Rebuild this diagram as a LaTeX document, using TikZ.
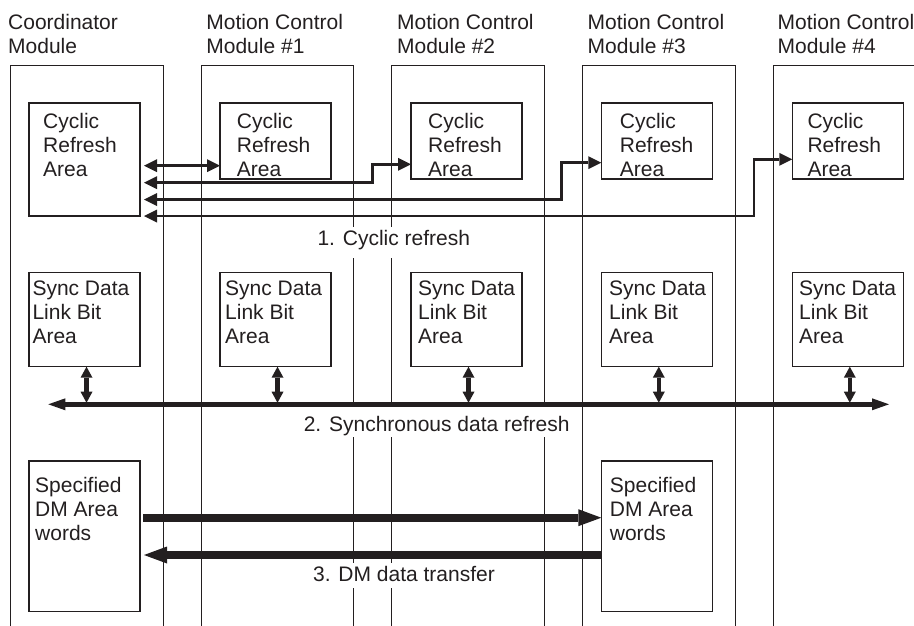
\documentclass[tikz,border=0pt]{standalone}
\usepackage{fontspec}
\setmainfont{Liberation Sans}
\usetikzlibrary{arrows.meta}
\definecolor{ink}{RGB}{35,31,32}
\newcommand{\stk}[1]{\begin{tabular}[t]{@{}l@{}}#1\end{tabular}}
\begin{document}
\begin{tikzpicture}[x=1pt,y=-1pt,
  mod/.style={draw=ink,line width=1pt},
  area/.style={draw=ink,line width=1.2pt,inner sep=0pt,outer sep=0pt,anchor=north west,minimum width=111pt},
  txt/.style={anchor=base west,inner sep=0pt,text=ink,font=\fontsize{21}{24}\selectfont},
  lbl/.style={anchor=base,fill=white,inner xsep=3pt,inner ysep=0pt,text=ink,font=\fontsize{21}{24}\selectfont},
  cyc/.style={draw=ink,line width=2.6pt,arrows={Triangle[length=13pt,width=13pt,line width=0pt]-Triangle[length=13pt,width=13pt,line width=0pt]}},
  bus/.style={draw=ink,line width=5pt,arrows={Triangle[length=17pt,width=12pt,line width=0pt]-Triangle[length=17pt,width=12pt,line width=0pt]}},
  syn/.style={draw=ink,line width=4.5pt,arrows={Triangle[length=11pt,width=12pt,line width=0pt]-Triangle[length=11pt,width=12pt,line width=0pt]}},
  dma/.style={draw=ink,line width=7.7pt,arrows={-Triangle[length=23pt,width=17pt,line width=0pt]}}]
\useasboundingbox (0,0) rectangle (914,625);

% module outlines
\draw[mod] (10,627) -- (10,65) -- (163,65) -- (163,627);
\draw[mod] (201,627) -- (201,65) -- (353.7,65) -- (353.7,627);
\draw[mod] (391.7,627) -- (391.7,65) -- (544.7,65) -- (544.7,627);
\draw[mod] (582.7,627) -- (582.7,65) -- (735.7,65) -- (735.7,627);
\draw[mod] (773.3,627) -- (773.3,65) -- (930,65);

% headers
\node[txt] (h0) at (8,29) {\stk{Coordinator\\Module}};
\node[txt] (h1) at (206.2,29) {\stk{Motion Control\\Module \#1}};
\node[txt] (h2) at (396.9,29) {\stk{Motion Control\\Module \#2}};
\node[txt] (h3) at (587.5,29) {\stk{Motion Control\\Module \#3}};
\node[txt] (h4) at (777.5,29) {\stk{Motion Control\\Module \#4}};

% cyclic refresh areas
\node[area,minimum height=113pt] (cr0) at (29,103) {};
\node[area,minimum height=76pt] (cr1) at (220,103) {};
\node[area,minimum height=76pt] (cr2) at (411,103) {};
\node[area,minimum height=76pt] (cr3) at (601.3,103) {};
\node[area,minimum height=76pt] (cr4) at (792.3,103) {};
\node[txt] (ct0) at (43,128) {\stk{Cyclic\\Refresh\\Area}};
\node[txt] (ct1) at (236.7,128) {\stk{Cyclic\\Refresh\\Area}};
\node[txt] (ct2) at (428,128) {\stk{Cyclic\\Refresh\\Area}};
\node[txt] (ct3) at (619.7,128) {\stk{Cyclic\\Refresh\\Area}};
\node[txt] (ct4) at (807.3,128) {\stk{Cyclic\\Refresh\\Area}};

% sync data link bit areas
\node[area,minimum height=94.4pt] (sd0) at (29,272.3) {};
\node[area,minimum height=94.4pt] (sd1) at (220,272.3) {};
\node[area,minimum height=94.4pt] (sd2) at (411,272.3) {};
\node[area,minimum height=94.4pt] (sd3) at (601.3,272.3) {};
\node[area,minimum height=94.4pt] (sd4) at (792.3,272.3) {};
\node[txt] (st0) at (32.3,295) {\stk{Sync Data\\Link Bit\\Area}};
\node[txt] (st1) at (225,295) {\stk{Sync Data\\Link Bit\\Area}};
\node[txt] (st2) at (418,295) {\stk{Sync Data\\Link Bit\\Area}};
\node[txt] (st3) at (609,295) {\stk{Sync Data\\Link Bit\\Area}};
\node[txt] (st4) at (799,295) {\stk{Sync Data\\Link Bit\\Area}};

% DM areas
\node[area,minimum height=150.7pt] (dm0) at (29,461) {};
\node[area,minimum height=150.7pt] (dm3) at (601.3,461) {};
\node[txt] (dt0) at (35,492.7) {\stk{Specified\\DM Area\\words}};
\node[txt] (dt3) at (609.7,492.7) {\stk{Specified\\DM Area\\words}};

% labels
\node[lbl,text height=18pt,text depth=13pt] (l1) at (393.8,245) {1. Cyclic refresh};
\node[lbl,text height=24pt,text depth=5.7pt] (l2) at (436.7,431) {2. Synchronous data refresh};
\node[lbl,text height=18.7pt,text depth=6.6pt] (l3) at (404,581.7) {3. DM data transfer};

% cyclic refresh connectors
\coordinate (c1) at (144,165.7);
\coordinate (c2) at (144,182.7);
\coordinate (k2) at (372.3,164.3);
\coordinate (c3) at (144,199.5);
\coordinate (k3) at (561.7,162.7);
\coordinate (c4) at (144,216);
\coordinate (k4) at (754,159.3);
\draw[cyc] (c1) -- (cr1.west |- c1);
\draw[cyc] (c2) -| (k2) -- (cr2.west |- k2);
\draw[cyc] (c3) -| (k3) -- (cr3.west |- k3);
\draw[cyc] (c4) -| (k4) -- (cr4.west |- k4);

% synchronous bus
\coordinate (bl) at (48.3,404.3);
\coordinate (br) at (889,404.3);
\coordinate (bt) at (0,402.7);
\draw[bus] (bl) -- (br);
\foreach \i in {0,...,4}{
  \coordinate (v\i) at ([xshift=2pt]sd\i.south);
  \draw[syn] (v\i) -- (v\i |- bt);
}

% DM transfer
\coordinate (d1) at (143.3,517.7);
\coordinate (d2) at (144,555);
\draw[dma] (d1) -- (dm3.west |- d1);
\draw[dma] (dm3.west |- d2) -- (d2);
\end{tikzpicture}
\end{document}
